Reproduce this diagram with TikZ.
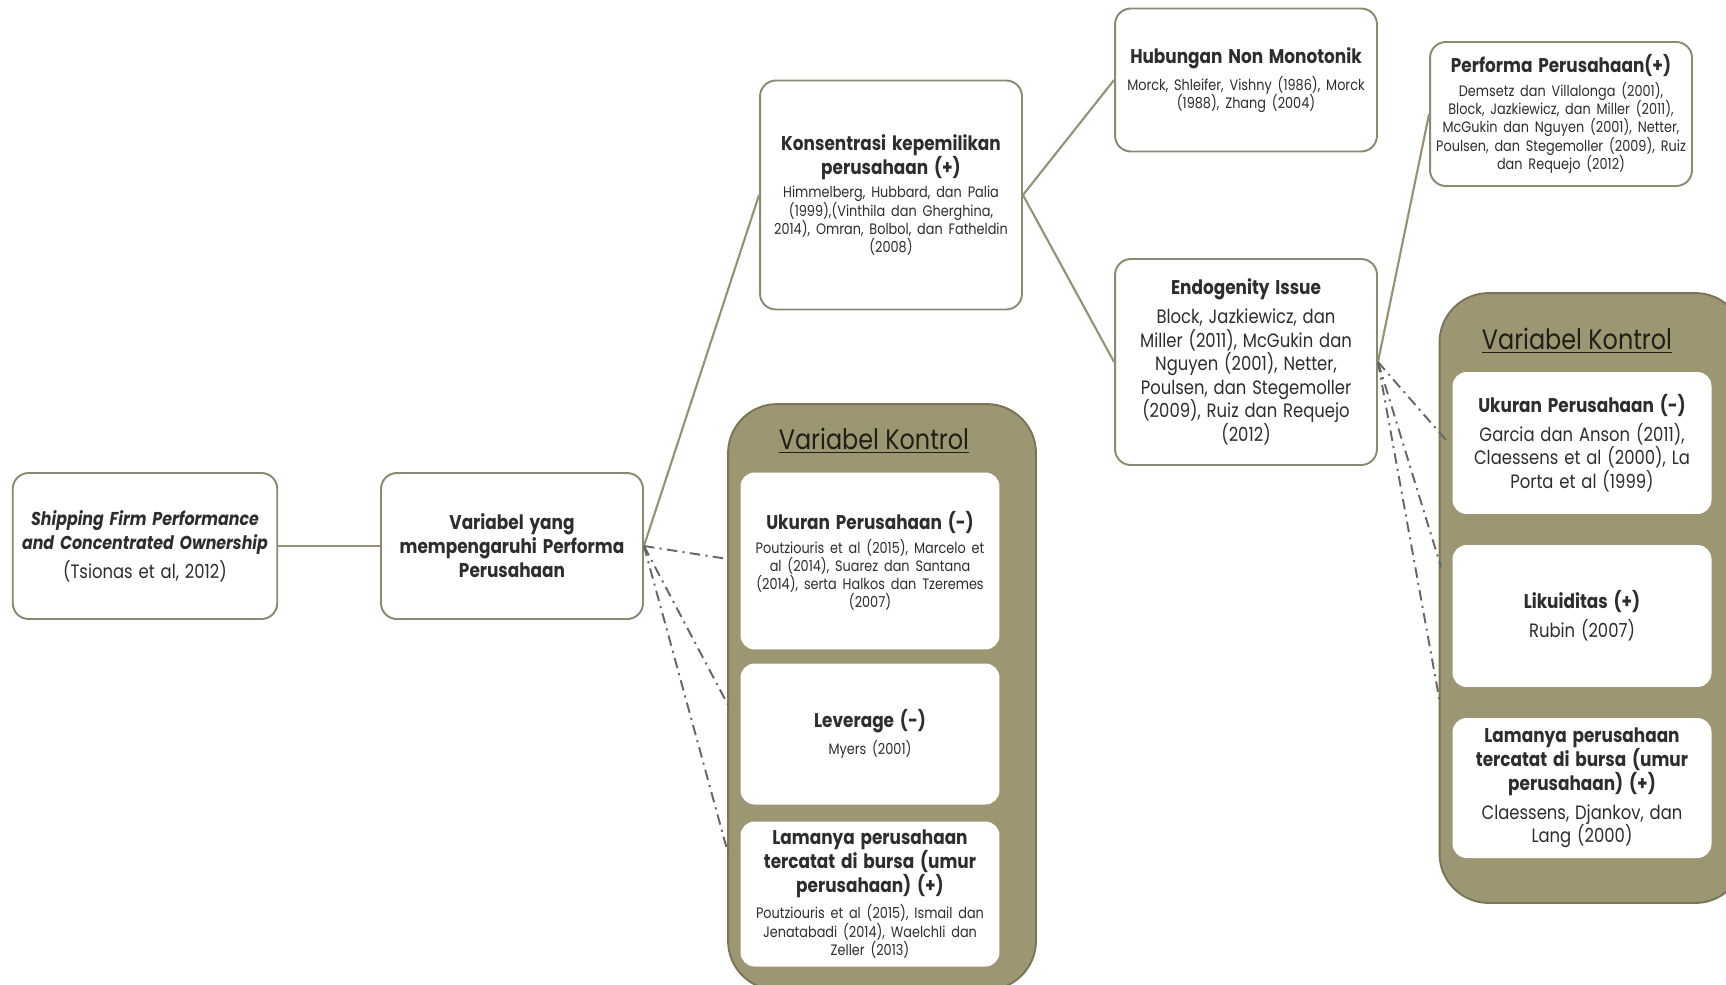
\documentclass[tikz,border=0pt]{standalone}
\usepackage{fontspec}
\setmainfont[FakeStretch=0.85]{Poppins}
\usetikzlibrary{calc}

\definecolor{kontrolisi}{RGB}{156,150,114}
\definecolor{kontrolgaris}{RGB}{122,117,88}
\definecolor{tepikotak}{RGB}{140,137,115}
\definecolor{garishub}{RGB}{150,144,116}
\definecolor{teks}{RGB}{45,45,45}

\newcommand{\judul}[1]{{\fontsize{11.3}{13.6}\selectfont\bfseries #1\par}}
\newcommand{\kecil}[1]{{\vspace{3pt}\fontsize{8.6}{10.4}\selectfont #1\par}}
\newcommand{\besar}[1]{{\vspace{3pt}\fontsize{11}{13.4}\selectfont #1\par}}

\begin{document}
\begin{tikzpicture}[x=0.02cm,y=-0.02cm,
  kotak/.style={draw=tepikotak,line width=1.1pt,fill=white,rounded corners=9pt,
    align=center,text width=5cm,inner sep=2pt,text=teks,minimum width=5.24cm,
    execute at begin node={\hyphenpenalty=10000\relax}},
  isian/.style={fill=white,rounded corners=8pt,align=center,text width=5cm,
    inner sep=2pt,text=teks,minimum width=5.18cm,
    execute at begin node={\hyphenpenalty=10000\relax}},
  kontrol/.style={draw=kontrolgaris,line width=1.1pt,fill=kontrolisi,rounded corners=28pt},
  kepala/.style={text=black!80!kontrolisi,font=\fontsize{16}{18}\selectfont},
  garis/.style={draw=garishub,line width=1.2pt},
  putus/.style={draw=black!60,line width=1.1pt,dash pattern=on 6pt off 3pt on 1.2pt off 3pt}]
  \useasboundingbox (0,0) rectangle (1726,984);

  \node[kotak,minimum height=2.92cm,minimum width=5.26cm,text width=5.15cm] (a) at (145,546)
    {{\fontsize{10.6}{13.6}\selectfont\bfseries\itshape Shipping Firm Performance\\ and Concentrated Ownership\par}\besar{(Tsionas et al, 2012)}};
  \node[kotak,minimum height=2.92cm] (b) at (512,546)
    {\judul{Variabel yang\\ mempengaruhi Performa\\ Perusahaan}};
  \node[kotak,minimum height=4.58cm] (c) at (891,195)
    {\judul{Konsentrasi kepemilikan\\ perusahaan (+)}\kecil{Himmelberg, Hubbard, dan Palia\\ (1999),(Vinthila dan Gherghina,\\ 2014), Omran, Bolbol, dan Fatheldin\\ (2008)}};
  \node[kotak,minimum height=2.86cm] (d) at (1246,80)
    {\judul{Hubungan Non Monotonik}\kecil{Morck, Shleifer, Vishny (1986), Morck\\ (1988), Zhang (2004)}};
  \node[kotak,minimum height=4.12cm] (e) at (1246,362)
    {\judul{Endogenity Issue}\besar{Block, Jazkiewicz, dan\\ Miller (2011), McGukin dan\\ Nguyen (2001), Netter,\\ Poulsen, dan Stegemoller\\ (2009), Ruiz dan Requejo\\ (2012)}};
  \node[kotak,minimum height=2.88cm] (f) at (1561,114)
    {\judul{Performa Perusahaan(+)}\kecil{Demsetz dan Villalonga (2001),\\ Block, Jazkiewicz, dan Miller (2011),\\ McGukin dan Nguyen (2001), Netter,\\ Poulsen, dan Stegemoller (2009), Ruiz\\ dan Requejo (2012)}};

  \node[kontrol,minimum width=6.16cm,minimum height=11.72cm] (g1) at (882,697) {};
  \node[kepala] (h1) at (874,441) {\underline{Variabel Kontrol}};
  \node[isian,minimum height=3.54cm] (u1) at (870,561)
    {\judul{Ukuran Perusahaan (-)}\kecil{Poutziouris et al (2015), Marcelo et\\ al (2014), Suarez dan Santana\\ (2014), serta Halkos dan Tzeremes\\ (2007)}};
  \node[isian,minimum height=2.82cm] (l1) at (870,734)
    {\judul{Leverage (-)}\kecil{Myers (2001)}};
  \node[isian,minimum height=2.9cm] (m1) at (870,894)
    {\judul{Lamanya perusahaan\\ tercatat di bursa (umur\\ perusahaan) (+)}\kecil{Poutziouris et al (2015), Ismail dan\\ Jenatabadi (2014), Waelchli dan\\ Zeller (2013)}};

  \node[kontrol,minimum width=6.1cm,minimum height=12.2cm] (g2) at (1592,598) {};
  \node[kepala] (h2) at (1577,341) {\underline{Variabel Kontrol}};
  \node[isian,minimum height=2.84cm] (u2) at (1582,443)
    {\judul{Ukuran Perusahaan (-)}\besar{Garcia dan Anson (2011),\\ Claessens et al (2000), La\\ Porta et al (1999)}};
  \node[isian,minimum height=2.84cm] (k2) at (1582,616)
    {\judul{Likuiditas (+)}\besar{Rubin (2007)}};
  \node[isian,minimum height=2.8cm] (m2) at (1582,788)
    {\judul{Lamanya perusahaan\\ tercatat di bursa (umur\\ perusahaan) (+)}\besar{Claessens, Djankov, dan\\ Lang (2000)}};

  \coordinate (t1) at (728,559);
  \coordinate (t2) at (728,705);
  \coordinate (t3) at (728,853);
  \coordinate (t4) at (1446,440);
  \coordinate (t5) at (1441,567);
  \coordinate (t6) at (1440,703);

  \draw[garis] (a) -- (b);
  \draw[garis] (b.east) -- (c.west);
  \draw[garis] (c.east) -- (d.west);
  \draw[garis] (c.east) -- (e.west);
  \draw[garis] (e.east) -- (f.west);
  \foreach \t in {t1,t2,t3}
    \draw[putus] (b.east) -- (\t);
  \foreach \t in {t4,t5,t6}
    \draw[putus] (e.east) -- (\t);
\end{tikzpicture}
\end{document}
